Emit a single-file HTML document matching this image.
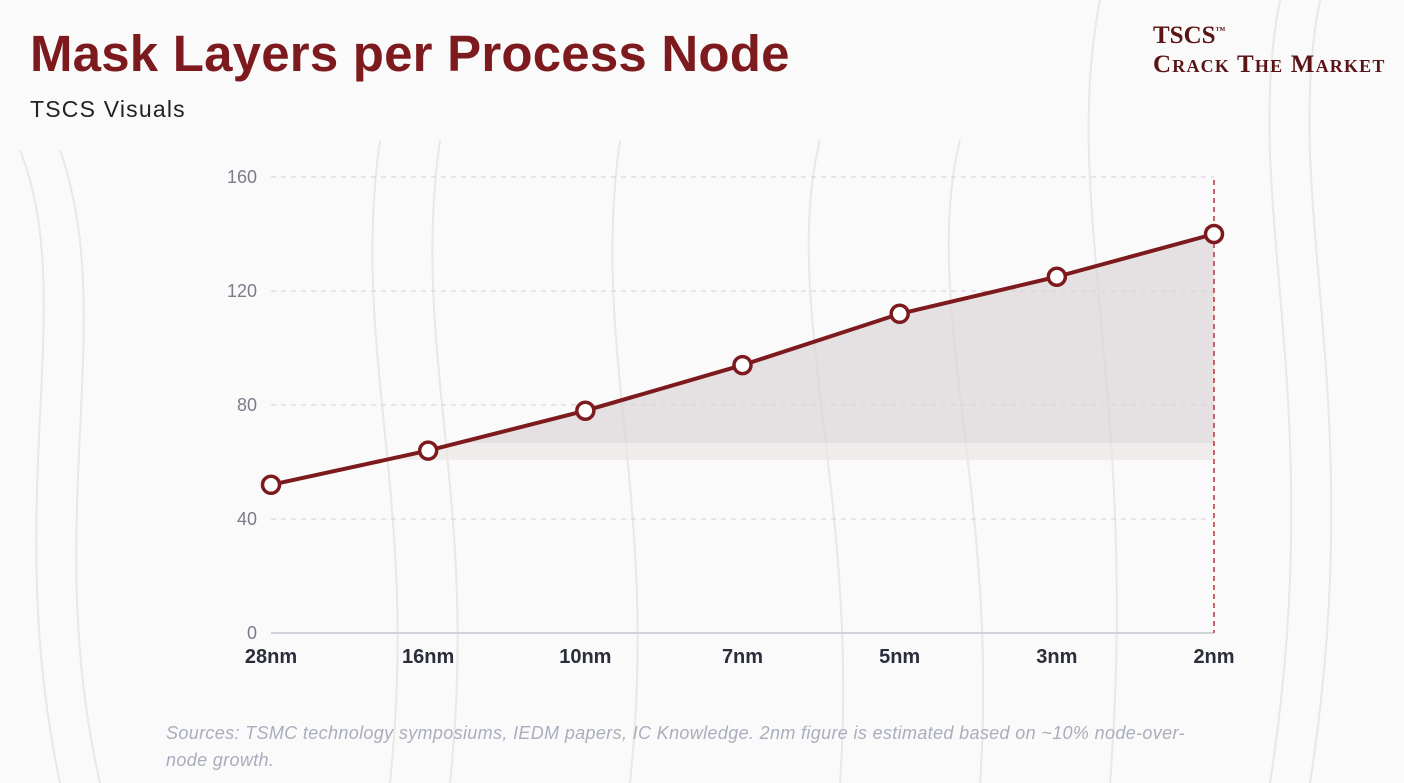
<!DOCTYPE html>
<html><head><meta charset="utf-8"><style>
body{margin:0;width:1404px;height:783px;overflow:hidden;background:#fbfafa;font-family:"Liberation Sans",sans-serif}
#t{position:absolute;left:30px;top:24px;font-size:51px;font-weight:bold;color:#7c1a1e;letter-spacing:0.2px}
#s{position:absolute;left:30px;top:96px;font-size:23px;color:#222;letter-spacing:1.2px}
#l1,#l2{position:absolute;font-family:"Liberation Serif",serif;font-weight:bold;color:#5a1416}
#l1{left:1153px;top:22px;font-size:25px}
#l2{left:1153px;top:51px;font-size:25px;font-variant:small-caps;letter-spacing:1.2px}
#src{position:absolute;left:166px;top:720px;width:1050px;font-size:18px;font-style:italic;color:#a9adbd;line-height:27px;letter-spacing:0.35px}
</style></head><body>
<svg width="1404" height="783" style="position:absolute;left:0;top:0">
<g fill="none" stroke="#ebe6e8" stroke-width="2">
<path d="M20 150 C80 300 0 500 60 783"/><path d="M60 150 C120 320 40 520 100 783"/>
<path d="M1280 0 C1240 200 1330 400 1270 783"/><path d="M1320 0 C1280 200 1370 400 1310 783"/>
<path d="M820 140 C780 300 860 500 840 783"/><path d="M960 140 C920 300 1000 500 980 783"/>
<path d="M1100 0 C1060 200 1140 400 1110 783"/><path d="M380 140 C350 350 420 500 390 783"/>
<path d="M440 140 C410 350 480 500 450 783"/><path d="M620 140 C590 350 660 500 630 783"/>
</g></svg>
<div id="t">Mask Layers per Process Node</div>
<div id="s">TSCS Visuals</div>
<div id="l1">TSCS<sup style="font-size:10px">™</sup></div>
<div id="l2">Crack The Market</div>
<svg id="c" width="1404" height="783" style="position:absolute;left:0;top:0"></svg>
<div id="src">Sources: TSMC technology symposiums, IEDM papers, IC Knowledge. 2nm figure is estimated based on ~10% node-over-node growth.</div>
<script>
const categories=["28nm","16nm","10nm","7nm","5nm","3nm","2nm"];
const values=[52,64,78,94,112,125,140];
const yTicks=[0,40,80,120,160];
const svg=document.getElementById('c');const NS="http://www.w3.org/2000/svg";
const x0=271,x1=1214,yb=633,yt=177,ymax=160;
const X=i=>x0+(x1-x0)*i/(categories.length-1);
const Y=v=>yb-(yb-yt)*v/ymax;
function mk(t,a,p){const e=document.createElementNS(NS,t);for(const k in a)e.setAttribute(k,a[k]);(p||svg).appendChild(e);return e;}
const defs=mk('defs',{});
const cp=mk('clipPath',{id:'cl'},defs);mk('rect',{x:0,y:0,width:1404,height:443},cp);
const cp2=mk('clipPath',{id:'cl2'},defs);mk('rect',{x:0,y:443,width:1404,height:17},cp2);
yTicks.forEach(v=>{
 if(v>0){const g=mk('line',{x1:x0,x2:x1,y1:Y(v),y2:Y(v),stroke:'#cfd0d8','stroke-dasharray':'5 5'});
 }
 const t=mk('text',{x:257,y:Y(v)+6,'text-anchor':'end','font-size':18,fill:'#7a7d8a'});t.textContent=v;
 
});
const ax=mk('line',{x1:x0,x2:x1,y1:yb,y2:yb,stroke:'#d2d2da','stroke-width':2});

let d=values.map((v,i)=>(i?'L':'M')+X(i)+' '+Y(v)).join(' ');
const ad=d+` L${X(values.length-1)} 460 L${X(0)} 460 Z`;
const area=mk('path',{d:ad,fill:'#dcd4d6','fill-opacity':0.7,'clip-path':'url(#cl)'});

const band=mk('path',{d:ad,fill:'#ebe5e6','fill-opacity':0.7,'clip-path':'url(#cl2)'});

const vl=mk('line',{x1:x1,x2:x1,y1:180,y2:yb,stroke:'#b5323a','stroke-width':1.5,'stroke-dasharray':'5 4'});

const ln=mk('path',{d:d,fill:'none',stroke:'#7c1a1e','stroke-width':4,'stroke-linejoin':'round'});

values.forEach((v,i)=>{
 const c=mk('circle',{cx:X(i),cy:Y(v),r:8.5,fill:'#fff',stroke:'#7c1a1e','stroke-width':3.5});
 
 const t=mk('text',{x:X(i),y:663,'text-anchor':'middle','font-size':20,'font-weight':'bold',fill:'#2a2d3a'});t.textContent=categories[i];
 
});
</script>
</body></html>
